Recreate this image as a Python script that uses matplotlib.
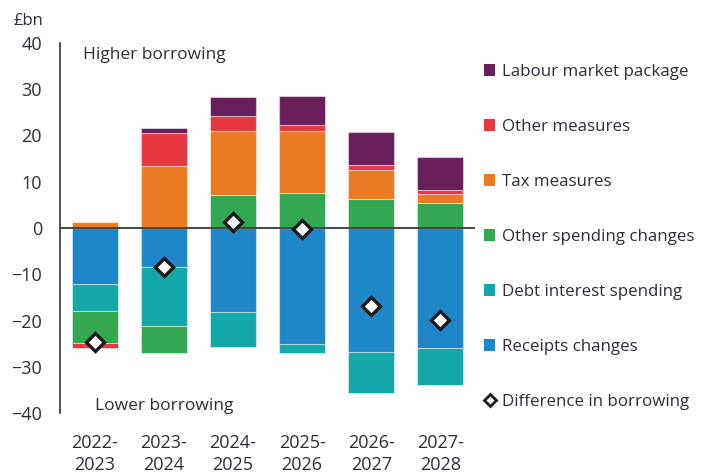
import numpy as np
import matplotlib
matplotlib.use("Agg")
import matplotlib.pyplot as plt
from matplotlib.patches import Patch
from matplotlib.lines import Line2D

years = ["2022-\n2023", "2023-\n2024", "2024-\n2025", "2025-\n2026", "2026-\n2027", "2027-\n2028"]

# £bn contributions to the change in borrowing
receipts = [-12.0, -8.4, -18.1, -25.0, -26.8, -25.9]
debt_interest = [-5.9, -12.8, -7.6, -2.0, -8.9, -8.0]
other_spending = [-7.0, -5.8, 7.2, 7.6, 6.2, 5.3]
tax_measures = [1.4, 13.3, 13.8, 13.4, 6.3, 2.0]
other_measures = [-1.1, 7.2, 3.2, 1.3, 1.1, 1.0]
labour_market = [0.0, 1.2, 4.1, 6.3, 7.1, 7.1]
difference = [-24.7, -8.5, 1.2, -0.2, -16.9, -19.9]

series = [
    ("Receipts changes", receipts, "#1F87C7"),
    ("Debt interest spending", debt_interest, "#13A7A9"),
    ("Other spending changes", other_spending, "#33A752"),
    ("Tax measures", tax_measures, "#EC7A23"),
    ("Other measures", other_measures, "#E63741"),
    ("Labour market package", labour_market, "#6A1F5D"),
]

txt = "#2E2E38"
plt.rcParams["font.family"] = ["Open Sans", "DejaVu Sans"]
plt.rcParams["font.size"] = 12

fig = plt.figure(figsize=(7.03, 4.73), dpi=100)
ax = fig.add_axes([60 / 703, 60 / 473, 415 / 703, 370 / 473])

x = np.arange(len(years))
pos = np.zeros(len(years))
neg = np.zeros(len(years))
for name, vals, col in series:
    vals = np.array(vals)
    bottom = np.where(vals >= 0, pos, neg)
    ax.bar(x, vals, width=0.667, bottom=bottom, color=col,
           edgecolor=(1, 1, 1, 0.45), linewidth=0.8, zorder=2)
    pos += np.where(vals >= 0, vals, 0)
    neg += np.where(vals < 0, vals, 0)

ax.axhline(0, color="#444444", lw=1.4, zorder=3)
ax.plot(x, difference, ls="none", marker="D", ms=9, mfc="white",
        mec="#1a1a1a", mew=2.4, zorder=4)

ax.set_xlim(-0.5, 5.5)
ax.set_ylim(-40, 40)
ax.set_yticks(range(-40, 41, 10))
ax.set_xticks(x)
ax.set_xticklabels(years, linespacing=1.3)
ax.tick_params(length=0, colors=txt, labelsize=13)
ax.tick_params(axis="y", pad=13)
ax.tick_params(axis="x", pad=15)
for s in ["top", "right", "bottom"]:
    ax.spines[s].set_visible(False)
ax.spines["left"].set_color("#444444")
ax.spines["left"].set_linewidth(1.3)

ax.text(23 / 415, 1 - 12 / 370, "Higher borrowing", transform=ax.transAxes,
        color=txt, fontsize=12.5, va="center")
ax.text(35 / 415, 1 - 363 / 370, "Lower borrowing", transform=ax.transAxes,
        color=txt, fontsize=12.5, va="center")
fig.text(43 / 703, 1 - 21 / 473, "£bn", color=txt, fontsize=12,
         ha="right", va="center")

handles = [Patch(facecolor=col, label=name) for name, _, col in series[::-1]]
handles.append(Line2D([], [], ls="none", marker="D", ms=6, mfc="white",
                      mec="#1a1a1a", mew=2, label="Difference in borrowing"))
fig.legend(handles=handles, loc="upper left", bbox_to_anchor=(484 / 703, 1 - 64 / 473),
           frameon=False, fontsize=12.2, labelcolor=txt, handlelength=0.65,
           handleheight=0.65, handletextpad=0.4, labelspacing=2.3, borderpad=0,
           borderaxespad=0)

fig.savefig("out.png", dpi=100)
